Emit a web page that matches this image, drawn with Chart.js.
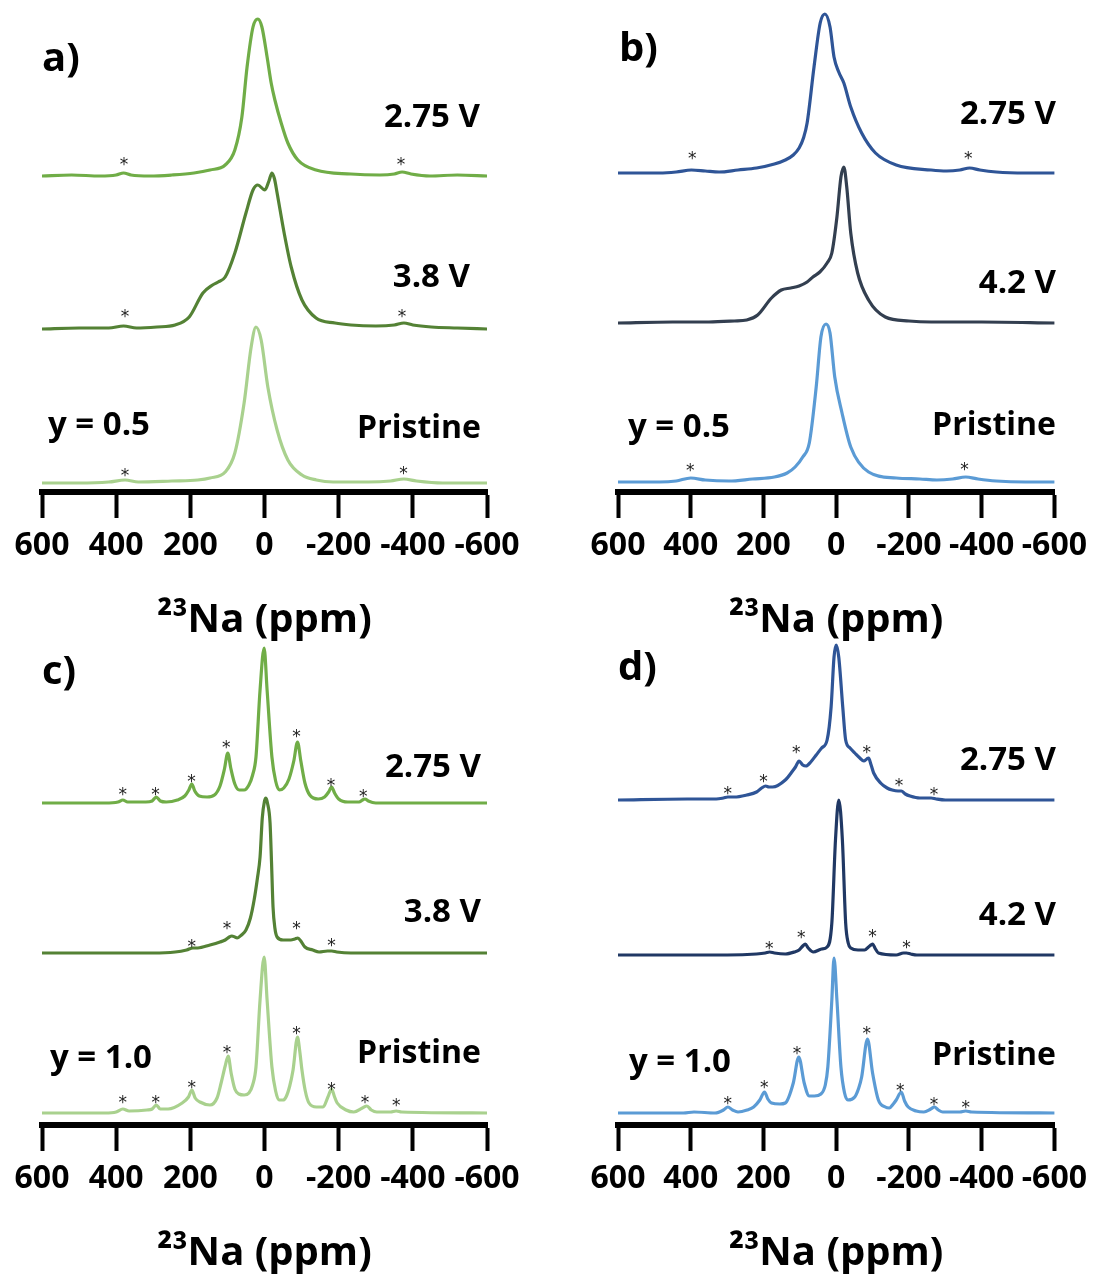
<!DOCTYPE html>
<html>
<head>
<meta charset="utf-8">
<title>23Na MAS NMR spectra</title>
<script src="https://cdn.jsdelivr.net/npm/chart.js@4.4.1/dist/chart.umd.min.js"></script>
<style>
  html, body { margin: 0; padding: 0; background: #fff; }
  #page { position: relative; width: 1096px; height: 1276px; overflow: hidden; background: #fff; }
  #page canvas { position: absolute; }
</style>
</head>
<body>
<div id="page">
  <canvas id="panelA" width="548" height="645" style="left:0;top:0"></canvas>
  <canvas id="panelB" width="548" height="645" style="left:548px;top:0"></canvas>
  <canvas id="panelC" width="548" height="645" style="left:0;top:633px"></canvas>
  <canvas id="panelD" width="548" height="645" style="left:548px;top:633px"></canvas>
</div>
<script>
// chemical shift axis (ppm), same for every panel
const ppmTicks = [600, 400, 200, 0, -200, -400, -600];

// spectra as [ppm, intensity] pairs, intensity in a.u. above each trace's baseline
// a) y = 0.5, green series
const a275 = [[600,0],[520,1],[443,0],[400,1],[380,3],[360,1],[309,0],[250,1],[190,3],[147,6],[106,11],[80,26],[61,59],[47,109],[31,149],[18,157],[7,149],[-7,119],[-18,93],[-28,76],[-45,53],[-63,33],[-90,16],[-139,6],[-233,2],[-311,1],[-350,2],[-371,4],[-395,2],[-446,0],[-520,1],[-600,0]];
const a38 = [[600,0],[500,1],[420,1],[380,3],[345,1],[290,2],[241,4],[203,12],[166,36],[140,44],[125,47],[106,52],[80,76],[50,116],[31,139],[18,144],[-1,139],[-12,148],[-20,156],[-27,150],[-34,136],[-53,96],[-72,62],[-101,29],[-139,11],[-190,6],[-233,4],[-300,3],[-350,4],[-376,6],[-400,4],[-450,2],[-520,1],[-600,0]];
const aPristine = [[600,0],[500,0],[420,1],[376,3],[340,1],[250,2],[180,3],[147,5],[106,11],[80,30],[55,80],[36,136],[23,156],[9,143],[-9,96],[-34,53],[-63,23],[-101,8],[-140,3],[-185,1],[-280,1],[-340,2],[-376,4],[-410,2],[-480,0],[-600,0]];
const a275Stars = [[379,16],[-368,16]];
const a38Stars = [[376,17],[-371,17]];
const aPristineStars = [[376,12],[-375,14]];

// b) y = 0.5, blue series
const b275 = [[600,0],[486,0],[440,1],[398,3],[360,2],[322,1],[270,3],[219,5],[170,9],[140,13],[118,18],[102,25],[90,35],[80,50],[61,106],[44,150],[31,159],[17,146],[6,116],[-7,101],[-21,90],[-40,66],[-70,40],[-108,20],[-165,8],[-261,3],[-304,2],[-340,3],[-367,5],[-395,3],[-440,1],[-520,0],[-600,0]];
const b42 = [[600,0],[450,1],[350,1],[280,2],[246,3],[216,8],[178,25],[151,33],[125,35],[102,37],[80,41],[64,46],[45,51],[25,60],[12,70],[-2,106],[-13,146],[-21,156],[-29,136],[-40,90],[-59,50],[-89,23],[-135,6],[-200,2],[-261,1],[-400,1],[-600,0]];
const bPristine = [[600,0],[486,0],[440,1],[400,4],[360,2],[295,1],[230,3],[170,5],[135,9],[113,15],[92,25],[74,39],[55,95],[42,145],[28,158],[17,149],[4,105],[-16,69],[-40,35],[-89,10],[-165,4],[-230,3],[-277,2],[-320,3],[-356,5],[-390,3],[-440,1],[-520,0],[-600,0]];
const b275Stars = [[396,19],[-363,19]];
const b42Stars = [];
const bPristineStars = [[401,16],[-353,17]];

// c) y = 1.0, green series
const c275 = [[600,0],[430,0],[395,1],[382,3],[369,1],[320,1],[303,2],[292,6],[281,2],[265,1],[235,3],[215,7],[204,13],[196,19],[188,12],[176,7],[155,6],[135,8],[120,17],[108,34],[99,50],[91,35],[80,19],[68,13],[55,13],[42,18],[32,28],[23,46],[12,113],[1,155],[-7,113],[-20,46],[-30,22],[-40,13],[-52,15],[-66,24],[-79,42],[-89,61],[-98,42],[-109,20],[-122,8],[-145,4],[-162,6],[-173,11],[-181,16],[-189,10],[-200,4],[-225,1],[-255,1],[-264,3],[-271,4],[-280,2],[-300,0],[-420,0],[-600,0]];
const c38 = [[600,0],[300,0],[241,1],[210,3],[193,5],[180,5],[147,8],[120,11],[106,13],[95,16],[88,17],[80,16],[74,15],[62,18],[50,23],[38,35],[28,53],[19,75],[12,96],[6,135],[0,152],[-4,155],[-8,150],[-15,130],[-19,90],[-23,46],[-28,25],[-34,16],[-50,13],[-71,13],[-82,14],[-90,15],[-98,12],[-109,6],[-130,3],[-147,1],[-170,2],[-181,2],[-195,1],[-233,0],[-600,0]];
const cPristine = [[600,0],[430,0],[400,1],[382,4],[365,2],[317,3],[303,4],[292,8],[281,4],[260,4],[222,10],[205,16],[196,23],[187,15],[174,11],[147,8],[128,15],[117,30],[106,47],[98,57],[90,40],[80,24],[69,19],[55,18],[42,20],[32,28],[23,46],[12,113],[1,156],[-7,113],[-20,46],[-30,22],[-39,13],[-50,13],[-58,16],[-68,27],[-77,43],[-89,76],[-95,62],[-101,43],[-110,22],[-120,10],[-140,6],[-158,6],[-171,16],[-181,24],[-189,16],[-196,10],[-220,3],[-241,1],[-264,5],[-276,7],[-288,3],[-303,1],[-340,1],[-355,2],[-370,1],[-600,0]];
const c275Stars = [[382,13],[294,13],[197,26],[103,60],[-86,71],[-179,22],[-266,11]];
const c38Stars = [[196,11],[101,29],[-86,29],[-181,12]];
const cPristineStars = [[382,15],[293,15],[196,30],[101,65],[-86,84],[-181,28],[-271,15],[-355,12]];

// d) y = 1.0, blue series
const d275 = [[600,0],[410,1],[330,1],[310,2],[298,3],[280,3],[246,5],[219,8],[205,12],[194,14],[185,13],[175,13],[140,20],[120,29],[112,33],[102,39],[92,35],[83,34],[70,38],[55,45],[40,52],[25,60],[14,93],[6,143],[0,155],[-7,143],[-18,93],[-26,60],[-38,52],[-51,47],[-65,42],[-76,39],[-84,41],[-89,42],[-96,35],[-103,27],[-122,17],[-140,12],[-154,10],[-170,9],[-179,9],[-190,6],[-203,4],[-230,2],[-261,2],[-275,1],[-300,0],[-600,0]];
const d42 = [[600,0],[300,0],[219,1],[195,2],[183,3],[170,2],[140,1],[115,3],[102,5],[92,9],[85,11],[77,7],[63,3],[40,6],[25,8],[12,32],[2,115],[-7,155],[-17,115],[-26,32],[-33,12],[-40,7],[-60,5],[-78,5],[-92,9],[-100,11],[-108,6],[-116,2],[-165,0],[-185,2],[-193,2],[-205,1],[-222,0],[-600,0]];
const dPristine = [[600,0],[420,0],[391,1],[333,0],[310,3],[298,6],[285,3],[270,1],[245,3],[227,6],[210,13],[197,21],[188,14],[178,10],[155,9],[140,10],[118,30],[103,56],[88,30],[74,17],[60,17],[42,19],[30,28],[23,46],[12,113],[6,155],[-2,113],[-13,46],[-23,20],[-32,13],[-51,16],[-62,25],[-70,36],[-86,74],[-100,40],[-116,13],[-135,6],[-146,5],[-157,9],[-165,13],[-179,21],[-188,12],[-198,6],[-220,2],[-241,1],[-260,4],[-270,6],[-281,3],[-293,1],[-340,1],[-356,2],[-372,1],[-600,0]];
const d275Stars = [[298,11],[200,23],[110,52],[-84,52],[-173,19],[-269,10]];
const d42Stars = [[184,11],[96,22],[-100,23],[-193,12]];
const dPristineStars = [[298,14],[198,30],[108,64],[-84,84],[-176,27],[-269,13],[-356,10]];

const GREEN_HI = '#70AD47', GREEN_DARK = '#548235', GREEN_LIGHT = '#A9D18E';
const BLUE_HI = '#2F5597', SLATE = '#333F50', NAVY = '#203864', BLUE_LIGHT = '#5B9BD5';
const FONT = '"Open Sans", "DejaVu Sans", sans-serif';

Chart.defaults.font.family = FONT;
Chart.defaults.color = '#000';

// each trace is lifted by a fixed amount so the three spectra stack
const panels = [
  {
    id: 'panelA',
    traces: [
      { points: a275, stars: a275Stars, lift: 316, color: GREEN_HI },
      { points: a38, stars: a38Stars, lift: 163, color: GREEN_DARK },
      { points: aPristine, stars: aPristineStars, lift: 9, color: GREEN_LIGHT }
    ],
    labels: [
      { text: 'a)', x: 42, y: 71, align: 'left', size: 40 },
      { text: '2.75 V', x: 480, y: 127, align: 'right', size: 33 },
      { text: '3.8 V', x: 470, y: 287, align: 'right', size: 33 },
      { text: 'y = 0.5', x: 48, y: 435, align: 'left', size: 33 },
      { text: 'Pristine', x: 481, y: 438, align: 'right', size: 32 }
    ],
    pad: { left: 42, right: 61 }
  },
  {
    id: 'panelB',
    traces: [
      { points: b275, stars: b275Stars, lift: 319, color: BLUE_HI },
      { points: b42, stars: b42Stars, lift: 169, color: SLATE },
      { points: bPristine, stars: bPristineStars, lift: 10, color: BLUE_LIGHT }
    ],
    labels: [
      { text: 'b)', x: 71, y: 61, align: 'left', size: 40 },
      { text: '2.75 V', x: 508, y: 124, align: 'right', size: 33 },
      { text: '4.2 V', x: 508, y: 293, align: 'right', size: 33 },
      { text: 'y = 0.5', x: 80, y: 437, align: 'left', size: 33 },
      { text: 'Pristine', x: 508, y: 435, align: 'right', size: 32 }
    ],
    pad: { left: 70, right: 37.5 }
  },
  {
    id: 'panelC',
    traces: [
      { points: c275, stars: c275Stars, lift: 322, color: GREEN_HI },
      { points: c38, stars: c38Stars, lift: 172, color: GREEN_DARK },
      { points: cPristine, stars: cPristineStars, lift: 12, color: GREEN_LIGHT }
    ],
    labels: [
      { text: 'c)', x: 42, y: 51, align: 'left', size: 40 },
      { text: '2.75 V', x: 481, y: 144, align: 'right', size: 33 },
      { text: '3.8 V', x: 481, y: 289, align: 'right', size: 33 },
      { text: 'y = 1.0', x: 50, y: 435, align: 'left', size: 33 },
      { text: 'Pristine', x: 481, y: 430, align: 'right', size: 32 }
    ],
    pad: { left: 42, right: 61 }
  },
  {
    id: 'panelD',
    traces: [
      { points: d275, stars: d275Stars, lift: 325, color: BLUE_HI },
      { points: d42, stars: d42Stars, lift: 170, color: NAVY },
      { points: dPristine, stars: dPristineStars, lift: 12, color: BLUE_LIGHT }
    ],
    labels: [
      { text: 'd)', x: 70, y: 47, align: 'left', size: 40 },
      { text: '2.75 V', x: 508, y: 137, align: 'right', size: 33 },
      { text: '4.2 V', x: 508, y: 292, align: 'right', size: 33 },
      { text: 'y = 1.0', x: 81, y: 439, align: 'left', size: 33 },
      { text: 'Pristine', x: 508, y: 432, align: 'right', size: 32 }
    ],
    pad: { left: 70, right: 37.5 }
  }
];

// sideband asterisks and panel annotations
function annotations(panel) {
  return {
    id: 'annotations',
    afterDraw(chart) {
      const ctx = chart.ctx;
      const xs = chart.scales.x;
      const ys = chart.scales.y;
      ctx.save();
      ctx.fillStyle = '#222';
      ctx.font = '17px "DejaVu Sans"';
      ctx.textAlign = 'center';
      ctx.textBaseline = 'alphabetic';
      panel.traces.forEach(tr => {
        tr.stars.forEach(s => {
          ctx.fillText('*', xs.getPixelForValue(s[0]), ys.getPixelForValue(s[1] + tr.lift) + 10);
        });
      });
      ctx.fillStyle = '#000';
      panel.labels.forEach(l => {
        ctx.font = 'bold ' + l.size + 'px ' + FONT;
        ctx.textAlign = l.align;
        ctx.fillText(l.text, l.x, l.y);
      });
      ctx.restore();
    }
  };
}

panels.forEach(panel => {
  const datasets = panel.traces.map(tr => ({
    data: tr.points.map(p => ({ x: p[0], y: p[1] + tr.lift })),
    borderColor: tr.color,
    borderWidth: 3.2,
    pointRadius: 0,
    fill: false,
    cubicInterpolationMode: 'monotone',
    borderJoinStyle: 'round',
    borderCapStyle: 'round'
  }));

  new Chart(document.getElementById(panel.id), {
    type: 'line',
    data: { datasets: datasets },
    options: {
      responsive: false,
      animation: false,
      events: [],
      layout: {
        autoPadding: false,
        padding: { left: panel.pad.left, right: panel.pad.right, top: 8, bottom: 0 }
      },
      plugins: {
        legend: { display: false },
        tooltip: { enabled: false }
      },
      scales: {
        x: {
          type: 'linear',
          reverse: true,
          min: -600,
          max: 600,
          afterBuildTicks: scale => { scale.ticks = ppmTicks.map(v => ({ value: v })); },
          border: { display: true, color: '#000', width: 6 },
          grid: {
            display: true,
            drawOnChartArea: false,
            drawTicks: true,
            tickLength: 26,
            tickWidth: 4,
            tickColor: '#000'
          },
          ticks: {
            padding: 9,
            color: '#000',
            maxRotation: 0,
            autoSkip: false,
            font: { size: 32, weight: 'bold' },
            callback: v => String(v)
          },
          title: {
            display: true,
            text: '²³Na (ppm)',
            color: '#000',
            font: { size: 40, weight: 'bold' },
            padding: { top: 22.6, bottom: 0 }
          }
        },
        y: {
          display: false,
          min: 0,
          max: 484
        }
      }
    },
    plugins: [annotations(panel)]
  });
});
</script>
</body>
</html>
